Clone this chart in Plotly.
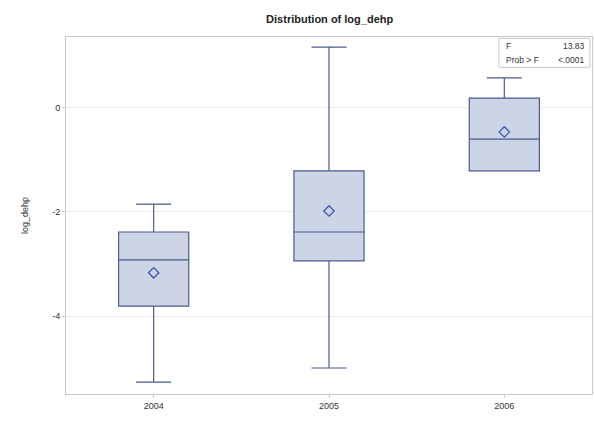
import plotly.graph_objects as go

# Summary statistics of log_dehp by year
years = ["2004", "2005", "2006"]
q1 = [-3.81, -2.94, -1.21]
median = [-2.92, -2.385, -0.60]
q3 = [-2.385, -1.21, 0.19]
lower_whisker = [-5.27, -5.00, -1.21]
upper_whisker = [-1.85, 1.17, 0.58]
means = [-3.17, -1.98, -0.46]
y_ticks = [0, -2, -4]
f_value = "13.83"
p_value = "<.0001"

line_col = "#4B5B93"
fill_col = "#CBD5E6"
font = "Liberation Sans, Arial, sans-serif"

fig = go.Figure()
fig.add_trace(go.Box(
    x=years, q1=q1, median=median, q3=q3,
    lowerfence=lower_whisker, upperfence=upper_whisker,
    fillcolor=fill_col, line=dict(color=line_col, width=1.2),
    width=0.4, whiskerwidth=0.5, boxpoints=False, showlegend=False,
    hoverinfo="skip",
))
fig.add_trace(go.Scatter(
    x=years, y=means, mode="markers", showlegend=False,
    marker=dict(symbol="diamond-open", size=8, color="#3F55B5", line=dict(width=1.3)),
))

fig.update_layout(
    width=594, height=423,
    margin=dict(l=66, r=2, t=37, b=29),
    paper_bgcolor="white", plot_bgcolor="white",
    font=dict(family=font, size=9, color="#333333"),
    title=dict(text="<b>Distribution of log_dehp</b>", x=0.555, xanchor="center",
               y=0.955, yanchor="middle", font=dict(size=11, color="#222222")),
    xaxis=dict(type="category", range=[-0.5, 2.5], showgrid=False,
               showline=True, linecolor="#C8C8C8", mirror=True,
               ticks="outside", ticklen=3, tickcolor="#C8C8C8",
               tickfont=dict(size=9)),
    yaxis=dict(range=[-5.5, 1.365], tickvals=y_ticks, ticktext=[str(v) for v in y_ticks],
               showgrid=True, gridcolor="#EDEDED", zeroline=False,
               showline=True, linecolor="#C8C8C8", mirror=True,
               ticks="outside", ticklen=3, tickcolor="#C8C8C8",
               tickfont=dict(size=9),
               title=dict(text="log_dehp", font=dict(size=9), standoff=22)),
)

# F-test statistics inset
fig.add_shape(type="rect", xref="paper", yref="paper",
              x0=0.823, x1=0.996, y0=0.915, y1=0.996,
              line=dict(color="#C8C8C8", width=1), fillcolor="white")
fig.add_annotation(xref="paper", yref="paper", x=0.833, y=0.975, text="F",
                   showarrow=False, xanchor="left", yanchor="middle", font=dict(size=8.5))
fig.add_annotation(xref="paper", yref="paper", x=0.99, y=0.975, text=f_value,
                   showarrow=False, xanchor="right", yanchor="middle", font=dict(size=8.5))
fig.add_annotation(xref="paper", yref="paper", x=0.833, y=0.935, text="Prob > F",
                   showarrow=False, xanchor="left", yanchor="middle", font=dict(size=8.5))
fig.add_annotation(xref="paper", yref="paper", x=0.99, y=0.935, text=p_value,
                   showarrow=False, xanchor="right", yanchor="middle", font=dict(size=8.5))

fig.write_html("out.html")
